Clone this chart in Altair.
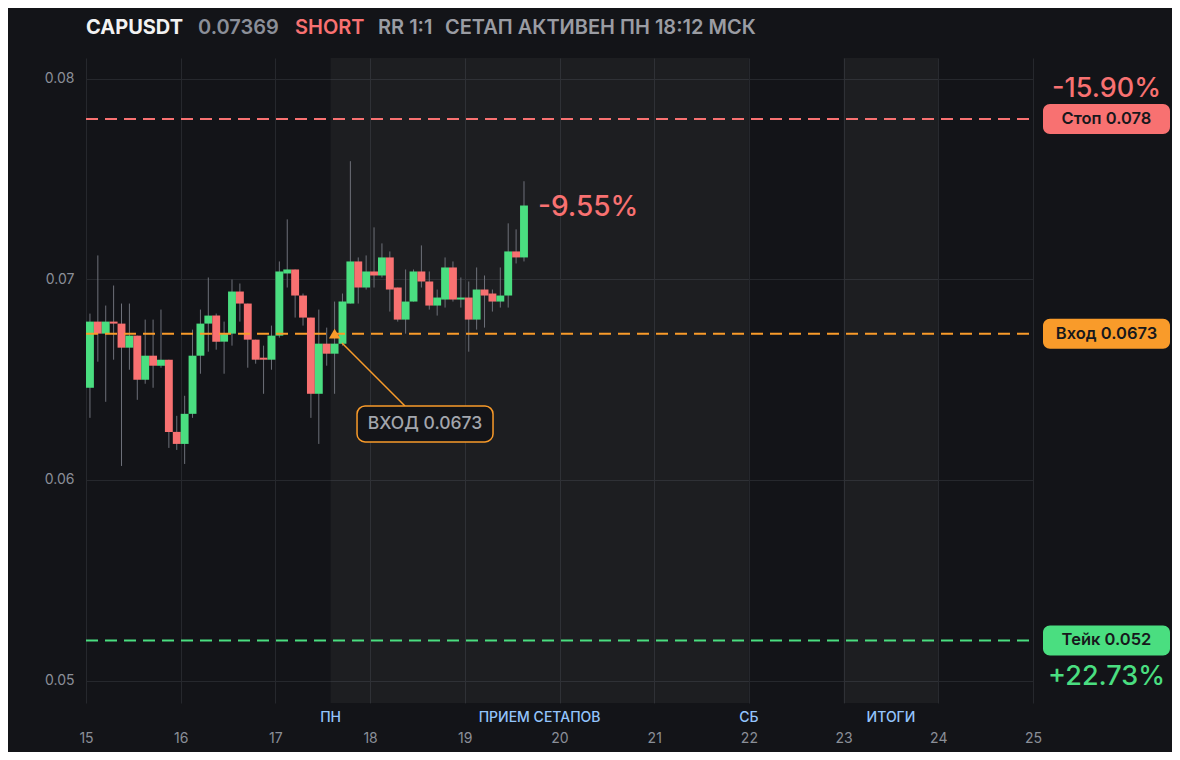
import altair as alt
import pandas as pd

# ---------------- data (2h candles from day 15 00:00) ----------------
opens = [0.0646, 0.0679, 0.0673, 0.0679, 0.0678, 0.0666, 0.0672, 0.0650, 0.0662, 0.0657,
         0.0660, 0.0624, 0.0618, 0.0633, 0.0662, 0.0678, 0.0682, 0.0669, 0.0673, 0.0694,
         0.0688, 0.0670, 0.0661, 0.0660, 0.0672, 0.0703, 0.0705, 0.0692, 0.0681, 0.0643,
         0.0668, 0.0663, 0.0668, 0.0688, 0.0709, 0.0696, 0.0704, 0.0702, 0.0711, 0.0696,
         0.0680, 0.0689, 0.0704, 0.0699, 0.0687, 0.0690, 0.0706, 0.0690, 0.0691, 0.0680,
         0.0695, 0.0693, 0.0689, 0.0692, 0.0714, 0.0711]
highs = [0.0683, 0.0712, 0.0687, 0.0697, 0.0688, 0.0688, 0.0672, 0.0680, 0.0680, 0.0685,
         0.0660, 0.0632, 0.0642, 0.0675, 0.0685, 0.0701, 0.0683, 0.0679, 0.0700, 0.0698,
         0.0688, 0.0670, 0.0667, 0.0677, 0.0709, 0.0730, 0.0705, 0.0693, 0.0681, 0.0685,
         0.0676, 0.0689, 0.0693, 0.0759, 0.0711, 0.0712, 0.0726, 0.0718, 0.0714, 0.0696,
         0.0705, 0.0705, 0.0717, 0.0704, 0.0695, 0.0711, 0.0709, 0.0701, 0.0699, 0.0706,
         0.0702, 0.0695, 0.0706, 0.0728, 0.0725, 0.0749]
lows = [0.0631, 0.0659, 0.0639, 0.0660, 0.0607, 0.0655, 0.0640, 0.0648, 0.0646, 0.0656,
        0.0616, 0.0615, 0.0608, 0.0631, 0.0653, 0.0664, 0.0665, 0.0653, 0.0667, 0.0679,
        0.0656, 0.0658, 0.0643, 0.0655, 0.0671, 0.0696, 0.0681, 0.0677, 0.0631, 0.0618,
        0.0657, 0.0643, 0.0667, 0.0688, 0.0688, 0.0695, 0.0696, 0.0701, 0.0684, 0.0679,
        0.0673, 0.0689, 0.0696, 0.0685, 0.0682, 0.0686, 0.0689, 0.0686, 0.0664, 0.0675,
        0.0676, 0.0684, 0.0686, 0.0686, 0.0708, 0.0709]
closes = [0.0679, 0.0673, 0.0679, 0.0678, 0.0666, 0.0672, 0.0650, 0.0662, 0.0657, 0.0660,
          0.0624, 0.0618, 0.0633, 0.0662, 0.0678, 0.0682, 0.0669, 0.0673, 0.0694, 0.0688,
          0.0670, 0.0660, 0.0660, 0.0672, 0.0704, 0.0705, 0.0692, 0.0681, 0.0643, 0.0668,
          0.0663, 0.0668, 0.0689, 0.0709, 0.0696, 0.0704, 0.0702, 0.0711, 0.0695, 0.0680,
          0.0689, 0.0704, 0.0699, 0.0687, 0.0691, 0.0706, 0.0690, 0.0691, 0.0680, 0.0695,
          0.0692, 0.0689, 0.0692, 0.0714, 0.0711, 0.07369]

level_values = [0.078, 0.0673, 0.052]
level_labels = ["Стоп 0.078", "Вход 0.0673", "Тейк 0.052"]
level_pcts = ["-15.90%", "", "+22.73%"]
day_ticks = list(range(15, 26))
price_ticks = [0.05, 0.06, 0.07, 0.08]
zone_starts = [17.583, 23]
zone_ends = [22, 24]
section_names = ["ПН", "ПРИЕМ СЕТАПОВ", "СБ", "ИТОГИ"]
section_pos = [17.583, 19.79, 22, 23.5]
entry_index = 31
entry_price = 0.0673
last_move = "-9.55%"
header_texts = ["CAPUSDT", "0.07369", "SHORT", "RR 1:1", "СЕТАП АКТИВЕН ПН 18:12 МСК"]

# ---------------- styling ----------------
BG = "#131418"
GREEN = "#4ade80"
RED = "#f87171"
ORANGE = "#f99b2a"
GRID = "#26282d"
GRAY = "#8b8f98"
FONT = "Inter"
W, H = 947, 645
Y_DOM = [0.048878, 0.081047]
PX = (Y_DOM[1] - Y_DOM[0]) / H
TAG_X0, TAG_X1 = 957, 1084
TAG_XC = (TAG_X0 + TAG_X1) / 2

xs = alt.Scale(domain=[15, 25], nice=False, zero=False)
ys = alt.Scale(domain=Y_DOM, nice=False, zero=False)

n = len(opens)
df = pd.DataFrame({"open": opens, "high": highs, "low": lows, "close": closes})
df["t0"] = [15 + i / 12 for i in range(n)]
df["t1"] = df["t0"] + 1 / 12
df["tc"] = df["t0"] + 1 / 24
df["dir"] = ["up" if c >= o else "down" for o, c in zip(opens, closes)]

color_enc = alt.Color("dir:N", scale=alt.Scale(domain=["up", "down"], range=[GREEN, RED]), legend=None)

x_axis = alt.Axis(values=day_ticks, format="d", grid=True, gridColor=GRID, domain=False, ticks=False,
                  tickSize=0, labelColor=GRAY, labelFontSize=14, labelFont=FONT, labelPadding=28,
                  labelFlush=False, labelOverlap=False, title=None)
y_axis = alt.Axis(values=price_ticks, format=".2f", grid=True, gridColor=GRID, domain=False, ticks=False,
                  tickSize=0, labelColor=GRAY, labelFontSize=14, labelFont=FONT, labelPadding=12,
                  labelFlush=False, title=None)

zones = pd.DataFrame({"s": zone_starts, "e": zone_ends})
shade = alt.Chart(zones).mark_rect(fill="#ffffff", opacity=0.045).encode(
    x=alt.X("s:Q", scale=xs, axis=x_axis), x2="e:Q", y=alt.value(0), y2=alt.value(H)
)

base = alt.Chart(df)
wicks = base.mark_rule(color="#6d7079", strokeWidth=1).encode(
    x=alt.X("tc:Q", scale=xs, axis=x_axis),
    y=alt.Y("low:Q", scale=ys, axis=y_axis),
    y2="high:Q",
)
bodies = base.mark_bar().encode(
    x=alt.X("t0:Q", scale=xs), x2="t1:Q",
    y=alt.Y("open:Q", scale=ys), y2="close:Q",
    color=color_enc,
)

lv = pd.DataFrame({"v": level_values, "label": level_labels, "pct": level_pcts,
                   "kind": ["stop", "entry", "take"]})
lv["lo"] = lv["v"] - 15 * PX
lv["hi"] = lv["v"] + 15 * PX
kind_color = alt.Color("kind:N", scale=alt.Scale(domain=["stop", "entry", "take"], range=[RED, ORANGE, GREEN]),
                       legend=None)
lines = alt.Chart(lv).mark_rule(strokeWidth=2, strokeDash=[12, 7]).encode(
    y=alt.Y("v:Q", scale=ys), x=alt.value(0), x2=alt.value(W), color=kind_color
)
tag_boxes = alt.Chart(lv).mark_rect(cornerRadius=7).encode(
    y=alt.Y("lo:Q", scale=ys), y2="hi:Q", x=alt.value(TAG_X0), x2=alt.value(TAG_X1), color=kind_color
)
tag_text = alt.Chart(lv).mark_text(font=FONT, fontSize=16.5, fontWeight=600, color="#17181c",
                                   align="center", baseline="middle").encode(
    y=alt.Y("v:Q", scale=ys), x=alt.value(TAG_XC), text="label:N"
)
pct_top = alt.Chart(lv[lv["kind"] == "stop"]).mark_text(font=FONT, fontSize=27, fontWeight=500, color=RED,
                                                         align="center", baseline="middle", dy=-30).encode(
    y=alt.Y("v:Q", scale=ys), x=alt.value(TAG_XC), text="pct:N"
)
pct_bot = alt.Chart(lv[lv["kind"] == "take"]).mark_text(font=FONT, fontSize=27, fontWeight=500, color=GREEN,
                                                         align="center", baseline="middle", dy=37).encode(
    y=alt.Y("v:Q", scale=ys), x=alt.value(TAG_XC), text="pct:N"
)

# entry marker & annotation
ent = pd.DataFrame({"x": [df["tc"][entry_index]], "y": [entry_price]})
tri = alt.Chart(ent).mark_point(shape="triangle-up", filled=True, size=130, color=ORANGE, opacity=1).encode(
    x=alt.X("x:Q", scale=xs), y=alt.Y("y:Q", scale=ys)
)
ann = pd.DataFrame({"x": [17.703], "y": [0.06683], "x2": [18.368], "y2": [0.06369],
                    "bx": [17.862], "bx2": [19.298], "by": [0.06369], "by2": [0.06190],
                    "tx": [18.58], "ty": [0.0628], "t": ["ВХОД 0.0673"]})
conn = alt.Chart(ann).mark_rule(color=ORANGE, strokeWidth=1.5).encode(
    x=alt.X("x:Q", scale=xs), y=alt.Y("y:Q", scale=ys), x2="x2:Q", y2="y2:Q"
)
abox = alt.Chart(ann).mark_rect(fill=BG, stroke=ORANGE, strokeWidth=1.5, cornerRadius=8).encode(
    x=alt.X("bx:Q", scale=xs), x2="bx2:Q", y=alt.Y("by:Q", scale=ys), y2="by2:Q"
)
atext = alt.Chart(ann).mark_text(font=FONT, fontSize=17.5, fontWeight=500, color="#a3a6ad",
                                 align="center", baseline="middle").encode(
    x=alt.X("tx:Q", scale=xs), y=alt.Y("ty:Q", scale=ys), text="t:N"
)

last = pd.DataFrame({"x": [df["t1"].iloc[-1]], "y": [closes[-1]], "t": [last_move]})
last_txt = alt.Chart(last).mark_text(font=FONT, fontSize=28, fontWeight=500, color=RED,
                                     align="left", baseline="middle", dx=10, dy=2).encode(
    x=alt.X("x:Q", scale=xs), y=alt.Y("y:Q", scale=ys), text="t:N"
)

# section labels under the plot
sec = pd.DataFrame({"x": section_pos, "t": section_names})
sec_txt = alt.Chart(sec).mark_text(font=FONT, fontSize=14, fontWeight=500, color="#93c5fd",
                                   align="center", baseline="middle").encode(
    x=alt.X("x:Q", scale=xs), y=alt.value(H + 15), text="t:N"
)

# header (one text mark per piece, placed in pixels above the plot)
hdr_px = [0, 112, 209, 292, 359]
hdr_col = ["#f2f2f2", "#8b8f98", RED, "#9a9ca3", "#9a9ca3"]
hdr_wt = [700, 600, 600, 600, 600]
header_layers = [
    alt.Chart(ent).mark_text(font=FONT, fontSize=20, fontWeight=w, align="left", baseline="middle",
                             color=c, text=t).encode(x=alt.value(p), y=alt.value(-30))
    for t, p, c, w in zip(header_texts, hdr_px, hdr_col, hdr_wt)
]

chart = alt.layer(
    shade, wicks, bodies, lines, conn, abox, atext, tri, last_txt,
    tag_boxes, tag_text, pct_top, pct_bot, sec_txt, *header_layers
).resolve_scale(color="independent").properties(
    width=W, height=H, background=BG,
    padding={"left": 78, "top": 50, "right": 139, "bottom": 49},
    autosize=alt.AutoSizeParams(type="none"),
).configure_view(stroke=None)

chart.save("out.html", embed_options={"renderer": "svg", "actions": False})
